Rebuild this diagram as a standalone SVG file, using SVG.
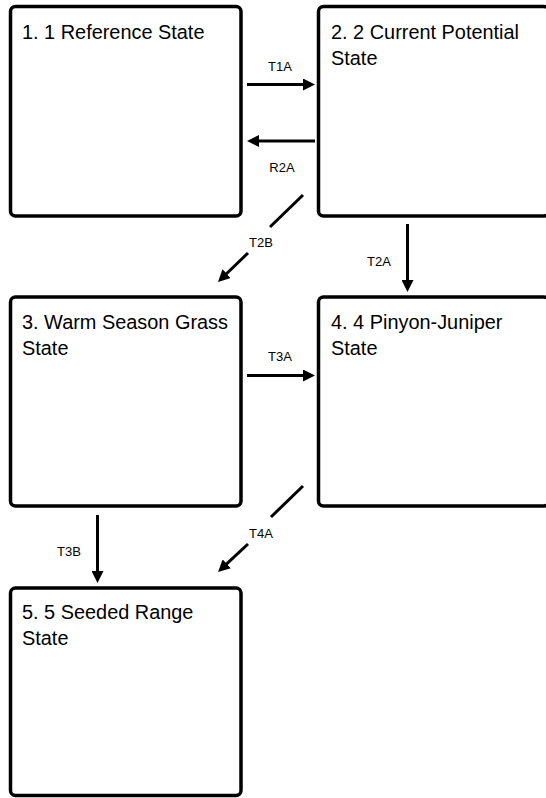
<svg xmlns="http://www.w3.org/2000/svg" width="546" height="798" viewBox="0 0 546 798">
<defs>
<style>
.box{fill:#fff;stroke:#000;stroke-width:3.5}
.title{font-family:"Liberation Sans",Arial,sans-serif;font-size:19.9px;fill:#000}
.lbl{font-family:"Liberation Sans",Arial,sans-serif;font-size:13px;fill:#000;text-anchor:middle}
.con{stroke:#000;stroke-width:3;fill:none}
</style>
<marker id="ah" markerUnits="userSpaceOnUse" markerWidth="12" markerHeight="12" refX="2" refY="6" orient="auto" viewBox="0 0 12 12">
<path d="M0,0 L12,6 L0,12 z" fill="#000"/>
</marker>
</defs>
<rect width="546" height="798" fill="#fff"/>
<g id="node1">
<rect class="box" x="10.5" y="6.5" width="230.5" height="209.5" rx="5"/>
<text class="title" x="22" y="38.5">1. 1 Reference State</text>
</g>
<g id="node2">
<rect class="box" x="318.5" y="6.5" width="230.5" height="209.5" rx="5"/>
<text class="title" x="331" y="38.5">2. 2 Current Potential</text>
<text class="title" x="331" y="64.5">State</text>
</g>
<g id="node3">
<rect class="box" x="10.5" y="297" width="230.5" height="209" rx="5"/>
<text class="title" x="22" y="329">3. Warm Season Grass</text>
<text class="title" x="22" y="355">State</text>
</g>
<g id="node4">
<rect class="box" x="318.5" y="297" width="230.5" height="209" rx="5"/>
<text class="title" x="331" y="329">4. 4 Pinyon-Juniper</text>
<text class="title" x="331" y="355">State</text>
</g>
<g id="node5">
<rect class="box" x="10.5" y="588" width="230.5" height="207.5" rx="5"/>
<text class="title" x="22" y="619">5. 5 Seeded Range</text>
<text class="title" x="22" y="645">State</text>
</g>
<g id="connectors">
<line class="con" x1="247" y1="84.5" x2="305" y2="84.5" marker-end="url(#ah)"/>
<text class="lbl" x="280" y="70.5">T1A</text>
<line class="con" x1="315" y1="141" x2="257" y2="141" marker-end="url(#ah)"/>
<text class="lbl" x="282" y="172">R2A</text>
<line class="con" x1="303" y1="195" x2="270" y2="227"/>
<line class="con" x1="248" y1="253" x2="225.2" y2="275" marker-end="url(#ah)"/>
<text class="lbl" x="261" y="247">T2B</text>
<line class="con" x1="407.5" y1="224" x2="407.5" y2="282" marker-end="url(#ah)"/>
<text class="lbl" x="379" y="266">T2A</text>
<line class="con" x1="247" y1="375.5" x2="305" y2="375.5" marker-end="url(#ah)"/>
<text class="lbl" x="280" y="361">T3A</text>
<line class="con" x1="303" y1="486" x2="271" y2="517"/>
<line class="con" x1="248" y1="544" x2="225.3" y2="565.2" marker-end="url(#ah)"/>
<text class="lbl" x="261" y="538">T4A</text>
<line class="con" x1="97.5" y1="515" x2="97.5" y2="573" marker-end="url(#ah)"/>
<text class="lbl" x="69" y="556">T3B</text>
</g>
</svg>
